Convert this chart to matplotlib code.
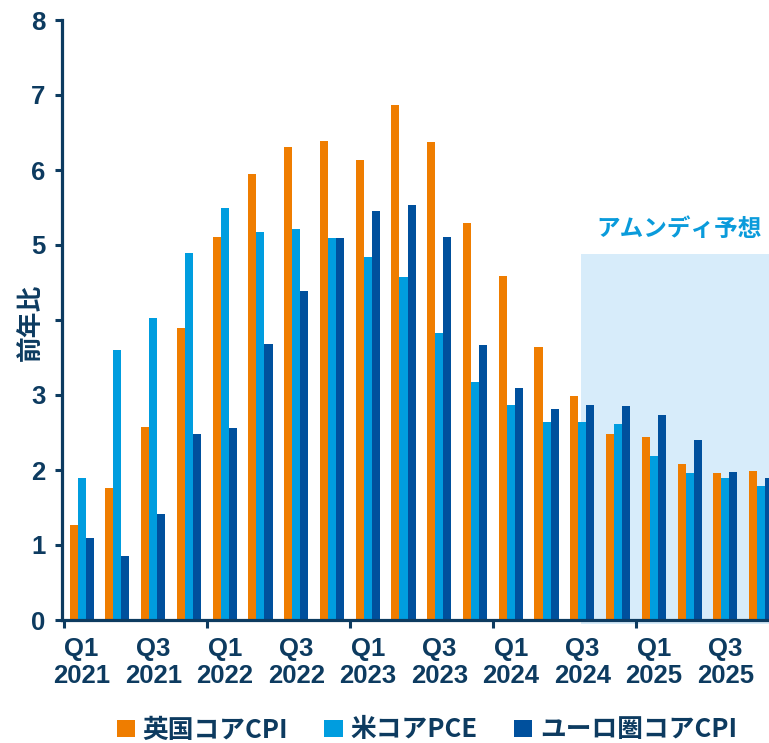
import matplotlib
matplotlib.use("Agg")
import matplotlib.pyplot as plt
from matplotlib.patches import Patch, Rectangle
import numpy as np

plt.rcParams['font.family'] = ['Liberation Sans', 'Noto Sans CJK JP', 'DejaVu Sans']

quarters = ["Q1\n2021", "Q2\n2021", "Q3\n2021", "Q4\n2021",
            "Q1\n2022", "Q2\n2022", "Q3\n2022", "Q4\n2022",
            "Q1\n2023", "Q2\n2023", "Q3\n2023", "Q4\n2023",
            "Q1\n2024", "Q2\n2024", "Q3\n2024", "Q4\n2024",
            "Q1\n2025", "Q2\n2025", "Q3\n2025", "Q4\n2025"]

uk_core_cpi = [1.27, 1.76, 2.57, 3.90, 5.11, 5.95, 6.31, 6.39, 6.14, 6.87,
               6.37, 5.29, 4.59, 3.64, 2.99, 2.48, 2.44, 2.08, 1.96, 1.99]
us_core_pce = [1.90, 3.60, 4.03, 4.90, 5.50, 5.17, 5.22, 5.10, 4.84, 4.58,
               3.83, 3.17, 2.87, 2.64, 2.64, 2.62, 2.19, 1.96, 1.90, 1.79]
ez_core_cpi = [1.10, 0.85, 1.41, 2.48, 2.56, 3.68, 4.39, 5.10, 5.45, 5.54,
               5.11, 3.67, 3.09, 2.81, 2.87, 2.85, 2.73, 2.40, 1.97, 1.89]

series_names = ["英国コアCPI", "米コアPCE", "ユーロ圏コアCPI"]
colors = ["#EF7D00", "#009DDF", "#00509D"]
navy = "#0D3B60"
shade = "#D7ECFA"

forecast_start = 13.97      # forecast period begins mid Q3 2024
forecast_top = 4.88

fig = plt.figure(figsize=(7.69, 7.43), dpi=100)
ax = fig.add_axes([62 / 769, 123 / 743, 707 / 769, 600 / 743])

x = np.arange(len(quarters))
w = 0.225
for k, (vals, col) in enumerate(zip([uk_core_cpi, us_core_pce, ez_core_cpi], colors)):
    ax.bar(x + (k - 1) * w, vals, width=w, color=col, zorder=3, linewidth=0)

# forecast shading
ax.add_patch(Rectangle((forecast_start, -0.05), 25 - forecast_start, forecast_top + 0.05,
                       facecolor=shade, edgecolor='none', zorder=1, clip_on=False))
ax.text(19.02, 5.21, "アムンディ予想", ha='right', va='center', fontsize=17,
        fontweight='bold', style='italic', color="#0A9BDB",
        family=['Noto Sans CJK JP', 'DejaVu Sans'], zorder=4)

for side in ['top', 'right']:
    ax.spines[side].set_visible(False)
for side in ['left', 'bottom']:
    ax.spines[side].set_linewidth(2.3)
    ax.spines[side].set_color(navy)
    ax.spines[side].set_zorder(5)

# the axis title sits where the "4" label would be
ax.set_yticks(range(0, 9))
ax.set_yticklabels(["" if v == 4 else str(v) for v in range(0, 9)])
ax.tick_params(axis='y', length=5, width=2.2, color=navy, pad=7,
               labelsize=18.5, labelcolor=navy)
for lab in ax.get_yticklabels():
    lab.set_fontweight('bold')

# boundary ticks between years, labels on odd quarters
ax.set_xticks(np.arange(-0.5, 19, 4))
ax.set_xticklabels([])
ax.tick_params(axis='x', which='major', direction='out', length=6, width=2.2, color=navy)
ax.set_xticks(x[::2], minor=True)
ax.set_xticklabels(quarters[::2], minor=True, fontsize=18.5, fontweight='bold',
                   color=navy, linespacing=1.15)
ax.tick_params(axis='x', which='minor', length=0, pad=12.5)

ax.set_xlim(-0.55, 19.22)
ax.set_ylim(0, 8)

fig.text(30 / 769, 421 / 743, "前年比", rotation=90, ha='center', va='center',
         fontsize=18.5, fontweight='bold', color=navy,
         family=['Noto Sans CJK JP', 'DejaVu Sans'])

handles = [Patch(facecolor=c, edgecolor='none') for c in colors]
leg = fig.legend(handles, series_names, loc='center', ncol=3,
                 bbox_to_anchor=(0.555, 0.0175), frameon=False,
                 handlelength=0.72, handleheight=0.68, handletextpad=0.3,
                 columnspacing=1.4, prop={'family': ['Noto Sans CJK JP', 'DejaVu Sans'],
                                          'weight': 'bold', 'size': 18.5})
for t in leg.get_texts():
    t.set_color(navy)

fig.savefig("out.png", dpi=100)
